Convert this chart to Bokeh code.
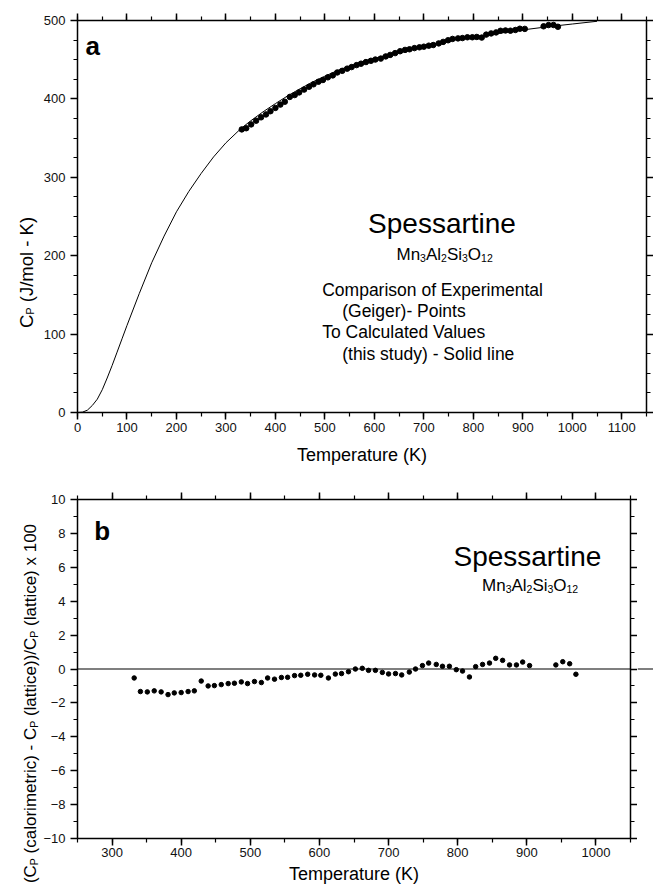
import math
from bokeh.plotting import figure
from bokeh.models import (Range1d, LinearAxis, SingleIntervalTicker, Label, Span,
                          CustomJSTickFormatter)
from bokeh.layouts import column, row
from bokeh.embed import file_html
from bokeh.resources import INLINE

FONT = "Liberation Sans"

# ---------------- data ----------------
# calculated lattice heat capacity (solid line)
calc_T = [0, 10, 20, 30, 40, 50, 60, 70, 80, 90, 100, 125, 150, 175, 200, 225, 250, 275,
          300, 330, 350, 375, 400, 425, 450, 475, 500, 525, 550, 575, 600, 650, 700, 750,
          800, 850, 900, 950, 1000, 1050]
calc_Cp = [0, 0.4, 3, 9, 17, 29, 44, 60, 77, 94, 111, 152, 191, 225, 256, 282, 305, 326,
           344, 362, 372, 383.5, 394, 404, 413, 421.5, 429, 436, 442, 447, 451.5, 460.5, 468, 474,
           479, 483.5, 488, 492, 495.5, 499]

# experimental (Geiger) points
exp_T = [332, 341, 351, 361, 371, 381, 390, 400, 410, 419, 429, 439, 448, 458, 468, 477,
         487, 496, 506, 516, 525, 535, 545, 554, 564, 573, 583, 593, 602, 613, 623, 632,
         642, 652, 662, 671, 681, 691, 700, 710, 719, 730, 739, 749, 758, 769, 778, 788,
         798, 807, 817, 826, 836, 846, 855, 865, 875, 885, 894, 904, 942, 952, 962, 971]
exp_Cp = [361.1, 362.6, 367.5, 372.2, 376.5, 380.2, 384.3, 388.5, 392.7, 396.4, 402.5, 404.9,
          408.3, 411.9, 415.5, 418.6, 421.9, 424.1, 427.5, 430.0, 433.7, 435.8, 438.6, 440.6,
          443.1, 444.9, 447.0, 448.6, 450.2, 451.4, 454.2, 456.1, 458.4, 460.8, 462.5, 463.3,
          464.8, 465.8, 466.6, 467.9, 468.7, 470.8, 472.7, 474.8, 476.5, 477.2, 477.6, 478.6,
          478.6, 479.0, 478.2, 482.0, 483.5, 484.8, 486.9, 487.3, 487.0, 487.9, 489.5, 489.3,
          492.6, 494.2, 494.3, 492.0]
# percent deviation (panel b)
dev_pct = [-0.53, -1.33, -1.35, -1.29, -1.35, -1.51, -1.41, -1.39, -1.33, -1.29,
           -0.71, -1.0, -0.98, -0.92, -0.86, -0.84, -0.76, -0.86, -0.74, -0.8,
           -0.53, -0.6, -0.5, -0.49, -0.39, -0.37, -0.31, -0.35, -0.37, -0.53,
           -0.3, -0.27, -0.16, 0.0, 0.04, -0.08, -0.08, -0.2, -0.29, -0.27,
           -0.35, -0.18, 0.0, 0.2, 0.35, 0.27, 0.16, 0.16, -0.04, -0.12,
           -0.47, 0.14, 0.27, 0.35, 0.63, 0.51, 0.24, 0.24, 0.41, 0.2,
           0.24, 0.43, 0.31, -0.31]

# ---------------- geometry (page pixels) ----------------
W = 653
LABW = 40                 # strip holding the rotated y titles
RSTRIP = 16               # strip right of panel b (zero line runs on past the axis)
H1 = 470
H2 = 887 - H1
L1, R1, T1, B1 = 77, 646, 20, 412
L2, R2, T2, B2 = 76, 630, 499, 838  # absolute page y for panel b

X1 = (0, 1150); Y1 = (0, 500)
X2 = (250, 1050); Y2 = (-10, 10)


def d1x(px):
    return X1[0] + (px - L1) * (X1[1] - X1[0]) / (R1 - L1)


def d1y(py):
    return Y1[0] + (B1 - py) * (Y1[1] - Y1[0]) / (B1 - T1)


def d2x(px):
    return X2[0] + (px - L2) * (X2[1] - X2[0]) / (R2 - L2)


def d2y(py):
    return Y2[0] + (B2 - py) * (Y2[1] - Y2[0]) / (B2 - T2)


ARIAL = {'C': .722, 'P': .667, ' ': .278, '(': .333, ')': .333, 'J': .5, '/': .278,
         'm': .833, 'o': .556, 'l': .222, '-': .333, 'K': .667, 'c': .5, 'a': .556,
         'r': .333, 'i': .222, 'e': .556, 't': .278, 'x': .5, '1': .556, '0': .556,
         'M': .833, 'n': .556, 'A': .667, 'S': .667, 'O': .778, '2': .556, '3': .556}


def tw(s, size):
    return sum(ARIAL.get(ch, .556) for ch in s) * size


BLANK = CustomJSTickFormatter(code="return ''")


def style_axis(ax, labels=True, standoff=5):
    ax.axis_line_width = 1.5
    ax.axis_line_color = "black"
    ax.major_tick_line_color = "black"
    ax.major_tick_line_width = 1.5
    ax.minor_tick_line_color = "black"
    ax.minor_tick_line_width = 1.2
    ax.major_tick_out = 7
    ax.major_tick_in = 0
    ax.minor_tick_out = 4
    ax.minor_tick_in = 0
    ax.major_label_text_font = FONT
    ax.major_label_text_font_size = "13px"
    ax.major_label_text_color = "#111111"
    ax.major_label_standoff = standoff
    if not labels:
        ax.formatter = BLANK
        ax.major_label_standoff = 0


def add_label(p, x, y, text, size, align="left", bold=False, angle=0.0):
    p.add_layout(Label(x=x, y=y, text=text, text_font=FONT, text_font_size=f"{size}px",
                       text_align=align, text_baseline="alphabetic", angle=angle,
                       text_color="black", text_font_style="bold" if bold else "normal"))


def add_runs_h(p, fx, fy, x0, y0, runs, size, sub_size, sub_drop):
    x = x0
    for s, sub in runs:
        sz = sub_size if sub else size
        add_label(p, fx(x), fy(y0 + (sub_drop if sub else 0)), s, sz)
        x += tw(s, sz)


def add_runs_v(p, xb, yc, runs, size, sub_size, sub_shift):
    """rotated text (reads bottom to top), centred at page y yc; leading/trailing
    blanks are turned into advances because SVG drops them"""
    total = sum(tw(s, sub_size if sub else size) for s, sub in runs)
    y = yc + total / 2
    for s, sub in runs:
        sz = sub_size if sub else size
        lead = len(s) - len(s.lstrip(" "))
        core = s.strip(" ")
        trail = len(s) - lead - len(core)
        y -= lead * tw(" ", sz)
        add_label(p, xb + (sub_shift if sub else 0), y, core, sz, angle=math.pi / 2)
        y -= tw(core, sz) + trail * tw(" ", sz)


def strip(width, height, yr):
    s = figure(frame_width=width, frame_height=height, x_range=Range1d(0, width),
               y_range=yr, output_backend="svg", title=None,
               toolbar_location=None, x_axis_type=None, y_axis_type=None,
               min_border=0, min_border_left=0, min_border_right=0,
               min_border_top=0, min_border_bottom=0)
    s.grid.visible = False
    s.outline_line_color = None
    s.background_fill_color = "white"
    s.border_fill_color = "white"
    return s


def main_fig(w, h, xr, yr, left, right, top, bottom):
    p = figure(width=w, height=h, x_range=Range1d(*xr), y_range=Range1d(*yr),
               output_backend="svg", toolbar_location=None,
               min_border_left=left, min_border_right=right, min_border_top=top,
               min_border_bottom=bottom)
    p.grid.visible = False
    p.outline_line_color = None
    p.background_fill_color = "white"
    p.border_fill_color = "white"
    return p


def style_xlabel(ax, standoff):
    ax.axis_label = "Temperature (K)"
    ax.axis_label_text_font = FONT
    ax.axis_label_text_font_size = "18px"
    ax.axis_label_text_font_style = "normal"
    ax.axis_label_text_color = "black"
    ax.axis_label_standoff = standoff


FORMULA = [("Mn", False), ("3", True), ("Al", False), ("2", True), ("Si", False),
           ("3", True), ("O", False), ("12", True)]

# ---------------- panel a ----------------
p1 = main_fig(W - LABW, H1, X1, Y1, L1 - LABW, W - R1, T1, H1 - B1)
p1.xaxis.ticker = SingleIntervalTicker(interval=100, num_minor_ticks=2)
p1.yaxis.ticker = SingleIntervalTicker(interval=100, num_minor_ticks=4)
style_axis(p1.xaxis[0], True, 3)
style_axis(p1.yaxis[0], True, 5)
style_xlabel(p1.xaxis[0], 10)
ax_top = LinearAxis(ticker=SingleIntervalTicker(interval=100, num_minor_ticks=2))
style_axis(ax_top, False)
p1.add_layout(ax_top, "above")
ax_right = LinearAxis(ticker=SingleIntervalTicker(interval=100, num_minor_ticks=4))
style_axis(ax_right, False)
p1.add_layout(ax_right, "right")

p1.line(calc_T, calc_Cp, line_color="black", line_width=1)
p1.scatter(exp_T, exp_Cp, size=5.5, marker="circle", fill_color="black", line_color="black")

add_label(p1, d1x(85), d1y(45), "a", 26, bold=True)
add_label(p1, d1x(441.5), d1y(222.7), "Spessartine", 28, align="center")
add_runs_h(p1, d1x, d1y, 396, 254, FORMULA, 17, 10.5, 3.5)
add_label(p1, d1x(321.7), d1y(289.3), "Comparison of Experimental", 17.5)
add_label(p1, d1x(341.7), d1y(310.6), "(Geiger)- Points", 17.5)
add_label(p1, d1x(321.7), d1y(331.9), "To Calculated Values", 17.5)
add_label(p1, d1x(341.7), d1y(353.2), "(this study) - Solid line", 17.5)

ya = strip(LABW, H1, Range1d(H1, 0))
add_runs_v(ya, 26, 252,
           [("C", False), ("P", True), (" (J/mol - K)", False)], 18.5, 11, 3.5)

# ---------------- panel b ----------------
p2 = main_fig(W - LABW - RSTRIP, H2, X2, Y2, L2 - LABW, W - RSTRIP - R2, T2 - H1, 887 - B2)
p2.xaxis.ticker = SingleIntervalTicker(interval=100, num_minor_ticks=2)
p2.yaxis.ticker = SingleIntervalTicker(interval=2, num_minor_ticks=2)
style_axis(p2.xaxis[0], True, 2)
style_axis(p2.yaxis[0], True, 5)
style_xlabel(p2.xaxis[0], 4)
bx_top = LinearAxis(ticker=SingleIntervalTicker(interval=100, num_minor_ticks=2))
style_axis(bx_top, False)
p2.add_layout(bx_top, "above")
bx_right = LinearAxis(ticker=SingleIntervalTicker(interval=2, num_minor_ticks=2))
style_axis(bx_right, False)
p2.add_layout(bx_right, "right")

p2.add_layout(Span(location=0, dimension="width", line_color="black", line_width=1.2))
p2.scatter(exp_T, dev_pct, size=4.5, marker="circle", fill_color="black", line_color="black")

add_label(p2, d2x(92.7), d2y(530), "b", 26, bold=True)
add_label(p2, d2x(526.7), d2y(556), "Spessartine", 28, align="center")
add_runs_h(p2, d2x, d2y, 481.3, 585, FORMULA, 17, 10.5, 3.5)

yb = strip(LABW, H2, Range1d(887, H1))
add_runs_v(yb, 30, 674,
           [("(C", False), ("P", True), (" (calorimetric) - C", False), ("P", True),
            (" (lattice))/C", False), ("P", True), (" (lattice) x 100", False)],
           17, 10.5, 3.5)

# the zero line of panel b runs on beyond the right axis to the page edge;
# this strip's frame is aligned with panel b's frame, so it shares its y scale
rb = figure(width=RSTRIP, height=H2, x_range=Range1d(0, RSTRIP), y_range=Range1d(*Y2),
            output_backend="svg", title=None, toolbar_location=None,
            x_axis_type=None, y_axis_type=None, min_border=0, min_border_left=0,
            min_border_right=0, min_border_top=0, min_border_bottom=0)
rb.grid.visible = False
rb.outline_line_color = None
rb.background_fill_color = "white"
rb.border_fill_color = "white"
rb.add_layout(Span(location=0, dimension="width", line_color="black", line_width=1.2))

layout = column(row(ya, p1), row(yb, p2, rb))
open("out.html", "w").write(file_html(layout, INLINE))
